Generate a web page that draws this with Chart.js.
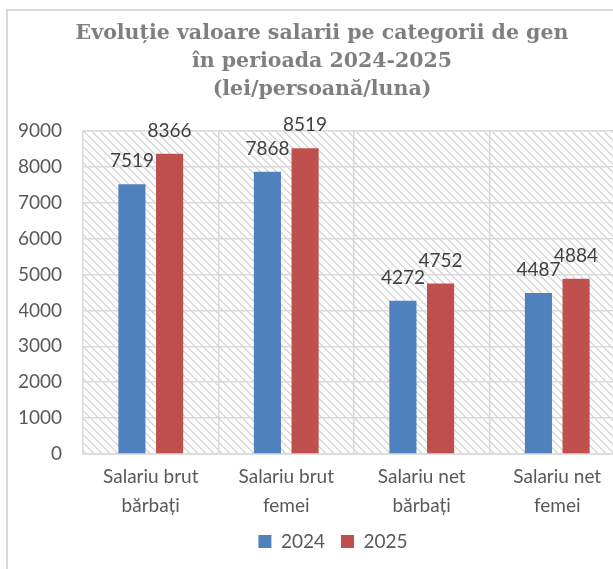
<!DOCTYPE html>
<html>
<head>
<meta charset="utf-8">
<script src="https://cdn.jsdelivr.net/npm/chart.js@4.4.1/dist/chart.umd.min.js"></script>
<style>
  html, body { margin: 0; padding: 0; background: #ffffff; }
  body { width: 613px; height: 569px; overflow: hidden; position: relative; }
  #frame {
    position: absolute; left: 6px; top: 9px; width: 700px; height: 700px;
    border-left: 2px solid #d9d9d9; border-top: 2px solid #d9d9d9;
  }
  #wrap { position: absolute; left: 0; top: 0; width: 625px; height: 569px; }
</style>
</head>
<body>
<div id="frame"></div>
<div id="wrap"><canvas id="salaryChart"></canvas></div>
<script>
const categories = [
  ['Salariu brut', 'bărbați'],
  ['Salariu brut', 'femei'],
  ['Salariu net', 'bărbați'],
  ['Salariu net', 'femei'],
];
const seriesLabels = ['2024', '2025'];
const values2024 = [7519, 7868, 4272, 4487];
const values2025 = [8366, 8519, 4752, 4884];
const titleLines = [
  'Evoluție valoare salarii pe categorii de gen',
  'în perioada 2024-2025',
  '(lei/persoană/luna)',
];

const palette = {
  blue: '#4f81bd',
  red: '#c0504d',
  text: '#595959',
  label: '#404040',
  title: '#7f7f7f',
  grid: '#d9d9d9',
  hatch: '#d9d9d9',
};
const fontFamily = 'Lato, "Open Sans", sans-serif';

function makeHatch() {
  const size = 8;
  const tile = document.createElement('canvas');
  tile.width = size;
  tile.height = size;
  const tctx = tile.getContext('2d');
  tctx.fillStyle = '#ffffff';
  tctx.fillRect(0, 0, size, size);
  tctx.fillStyle = palette.hatch;
  for (let i = 0; i < size; i++) {
    tctx.fillRect(i, i, 1, 1);
    tctx.fillRect((i + 1) % size, i, 1, 1);
  }
  return tctx.createPattern(tile, 'repeat');
}

// hatched plot background, like the Excel pattern fill
const plotBackground = {
  id: 'plotBackground',
  beforeDraw(chart) {
    const { ctx, chartArea } = chart;
    ctx.save();
    ctx.fillStyle = makeHatch();
    ctx.fillRect(chartArea.left, chartArea.top, chartArea.right - chartArea.left, chartArea.bottom - chartArea.top);
    ctx.restore();
  },
};

// value labels above bars
const valueLabels = {
  id: 'valueLabels',
  afterDatasetsDraw(chart) {
    const { ctx } = chart;
    ctx.save();
    ctx.font = `19px ${fontFamily}`;
    ctx.fillStyle = palette.label;
    ctx.textAlign = 'center';
    ctx.textBaseline = 'middle';
    chart.data.datasets.forEach((dataset, di) => {
      const meta = chart.getDatasetMeta(di);
      meta.data.forEach((bar, i) => {
        ctx.fillText(String(dataset.data[i]), bar.x, bar.y - 23);
      });
    });
    ctx.restore();
  },
};

// nudge the legend to where Excel centres it
const legendShift = {
  id: 'legendShift',
  afterLayout(chart) {
    if (chart.legend) {
      chart.legend.left += 11;
      chart.legend.right += 11;
    }
  },
};

const ctx = document.getElementById('salaryChart').getContext('2d');
new Chart(ctx, {
  type: 'bar',
  data: {
    labels: categories,
    datasets: [
      {
        label: seriesLabels[0],
        data: values2024,
        backgroundColor: palette.blue,
        categoryPercentage: 0.556,
        barPercentage: 0.72,
      },
      {
        label: seriesLabels[1],
        data: values2025,
        backgroundColor: palette.red,
        categoryPercentage: 0.556,
        barPercentage: 0.72,
      },
    ],
  },
  options: {
    responsive: true,
    maintainAspectRatio: false,
    animation: false,
    layout: { padding: { left: 19, right: 0, top: 10, bottom: 8 } },
    plugins: {
      title: {
        display: true,
        text: titleLines,
        color: palette.title,
        font: { family: '"DejaVu Serif", serif', size: 20.5, weight: 'bold', lineHeight: 1.366 },
        padding: { top: 10, bottom: 27 },
      },
      legend: {
        display: true,
        position: 'bottom',
        labels: {
          color: palette.text,
          font: { family: fontFamily, size: 19 },
          boxWidth: 13,
          boxHeight: 13,
          padding: 16,
        },
      },
      tooltip: { enabled: false },
    },
    scales: {
      x: {
        grid: { color: palette.grid, lineWidth: 1.5, drawTicks: false, offset: true },
        border: { color: palette.grid, width: 1.5 },
        ticks: {
          color: palette.text,
          font: { family: fontFamily, size: 19, lineHeight: 1.55 },
          padding: 8,
          maxRotation: 0,
          autoSkip: false,
        },
        afterFit(scale) { scale.height = 62; },
      },
      y: {
        min: 0,
        max: 9000,
        grid: { color: palette.grid, lineWidth: 1.5, drawTicks: false },
        border: { display: false },
        ticks: {
          stepSize: 1000,
          color: palette.text,
          font: { family: fontFamily, size: 19 },
          padding: 21,
          callback(value) { return String(value); },
        },
        afterFit(scale) { scale.width = 64; },
      },
    },
  },
  plugins: [plotBackground, valueLabels, legendShift],
});
</script>
</body>
</html>
